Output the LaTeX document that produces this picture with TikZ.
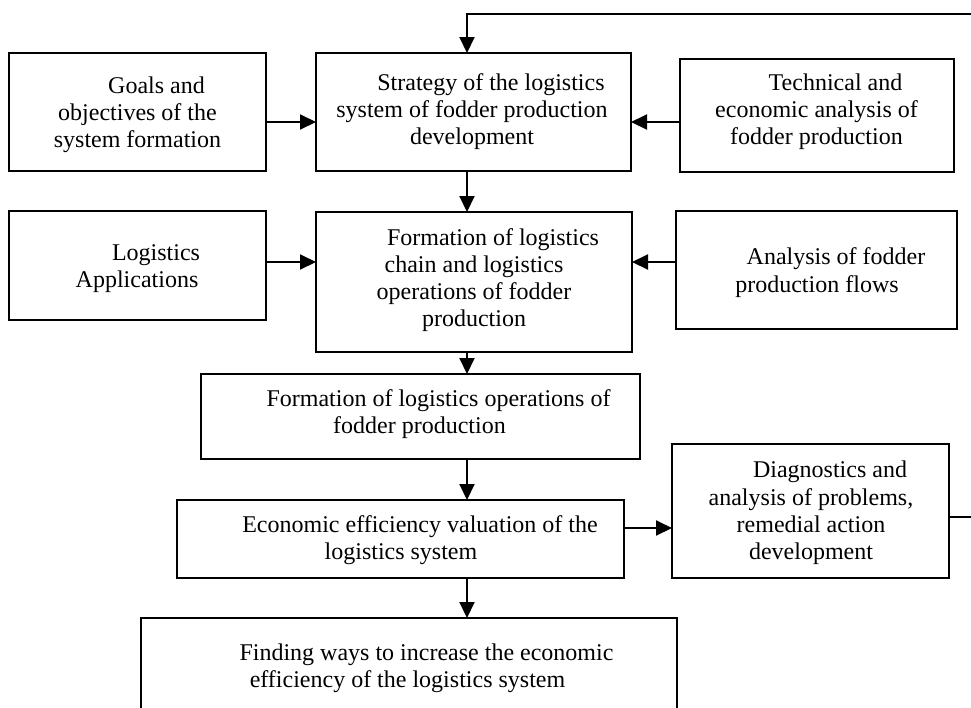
\documentclass[tikz,border=0pt]{standalone}
\usepackage{fontspec}
\setmainfont{Liberation Serif}
\usetikzlibrary{arrows.meta}
\newcommand{\ind}{\hspace*{19pt}}
\begin{document}
\begin{tikzpicture}[x=0.5pt,y=-0.5pt,
  box/.style={draw,line width=0.75pt,inner sep=0pt,outer sep=0pt},
  txt/.style={align=center,font=\fontsize{12}{13.6}\selectfont,inner sep=0pt},
  conn/.style={line width=1pt,-{Triangle[length=8pt,width=7.5pt]}},
  plainline/.style={line width=1pt}]
\useasboundingbox (0,0) rectangle (971,708);
\clip (0,0) rectangle (971,708);
\fill[white] (0,0) rectangle (971,708);

% boxes
\node[box,minimum width=128.5pt,minimum height=59pt] (goals) at (137.5,112) {};
\node[box,minimum width=157.5pt,minimum height=59pt] (strat) at (473.5,112) {};
\node[box,minimum width=137pt,minimum height=56.5pt] (tech) at (817,115.5) {};
\node[box,minimum width=128.5pt,minimum height=54.5pt] (logi) at (137.5,265.5) {};
\node[box,minimum width=158pt,minimum height=70pt] (chain) at (474,282) {};
\node[box,minimum width=140.5pt,minimum height=59pt] (anal) at (816.5,270) {};
\node[box,minimum width=219.5pt,minimum height=42.5pt] (ops) at (420.5,416.5) {};
\node[box,minimum width=223.5pt,minimum height=39pt] (econ) at (400.5,539) {};
\node[box,minimum width=138.5pt,minimum height=67pt] (diag) at (810.5,511) {};
\node[box,minimum width=268pt,minimum height=56pt] (find) at (409,674) {};

% texts
\node[txt] (goalsT) at (137.5,114.5) {\ind Goals and\\objectives of the\\system formation};
\node[txt] (stratT) at (472,111.5) {\ind Strategy of the logistics\\system of fodder production\\development};
\node[txt] (techT) at (816.5,111.5) {\ind Technical and\\economic analysis of\\fodder production};
\node[txt] (logiT) at (137,269) {\ind Logistics\\Applications};
\node[txt] (chainT) at (474,280) {\ind Formation of logistics\\chain and logistics\\operations of fodder\\production};
\node[txt] (analT) at (817,272.5) {\ind Analysis of fodder\\production flows};
\node[txt] (opsT) at (419.5,414) {\ind Formation of logistics operations of\\fodder production};
\node[txt] (econT) at (401,540) {\ind Economic efficiency valuation of the\\logistics system};
\node[txt] (diagT) at (811,513) {\ind Diagnostics and\\analysis of problems,\\remedial action\\development};
\node[txt] (findT) at (407.5,668.5) {\ind Finding ways to increase the economic\\efficiency of the logistics system};

% connectors
\draw[conn] (goals.east |- 0,122) -- (strat.west |- 0,122);
\draw[conn] (tech.west |- 0,122) -- (strat.east |- 0,122);
\draw[conn] (strat.south -| 467,0) -- (chain.north -| 467,0);
\draw[conn] (logi.east |- 0,262) -- (chain.west |- 0,262);
\draw[conn] (anal.west |- 0,262) -- (chain.east |- 0,262);
\draw[conn] (chain.south -| 467,0) -- (ops.north -| 467,0);
\draw[conn] (ops.south -| 467,0) -- (econ.north -| 467,0);
\draw[conn] (econ.east |- 0,528) -- (diag.west |- 0,528);
\draw[conn] (econ.south -| 467,0) -- (find.north -| 467,0);

\coordinate (fbR) at (990,517);
\coordinate (fbT) at (990,14);
\draw[conn] (diag.east |- 0,517) -- (fbR) -- (fbT) -| (strat.north -| 467,0);
\end{tikzpicture}
\end{document}
